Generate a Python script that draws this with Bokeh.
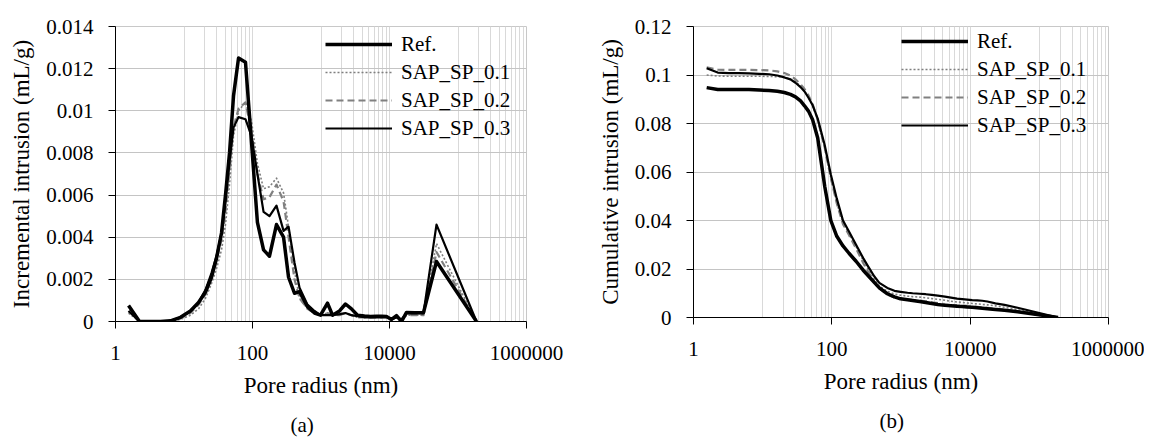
from bokeh.plotting import figure
from bokeh.layouts import row
from bokeh.models import (Range1d, FixedTicker, NumeralTickFormatter, Legend, LegendItem, Title)
from bokeh.embed import file_html
from bokeh.resources import INLINE

# ---------------- data ----------------
pore_radius_nm = [1.55, 2.24, 3.24, 4.54, 6.35, 8.9, 12.4, 16.3, 20.6, 25.2, 29.8, 35.3, 40.3, 46.2,
                  52.8, 62.5, 79, 96.7, 118, 145, 177, 224, 284, 336, 410, 486, 635, 804, 984, 1245,
                  1472, 1862, 2278, 2786, 3410, 4315, 5280, 6460, 7640, 9040, 10700, 12650, 14970,
                  17710, 23170, 31350, 48530, 186200]

ref_inc = [0.00076, 0, 0, 0, 0.00003, 0.0002, 0.0005, 0.0009, 0.0014, 0.0021, 0.0030, 0.0042, 0.0060,
           0.0080, 0.0107, 0.0125, 0.0123, 0.0085, 0.0047, 0.0034, 0.0031, 0.0046, 0.0040, 0.0021,
           0.00134, 0.00142, 0.0007, 0.0004, 0.0003, 0.00087, 0.0003, 0.0005, 0.00083, 0.0006, 0.0003,
           0.00026, 0.00024, 0.00025, 0.00025, 0.00024, 0.0001, 0.00028, 0.0, 0.00043, 0.00042,
           0.00042, 0.00285, 0.0]
sp01_inc = [0.0004, 0, 0, 0, 0, 0.0001, 0.0003, 0.0006, 0.0011, 0.0018, 0.0025, 0.0034, 0.0046, 0.0065,
            0.0088, 0.0100, 0.0104, 0.0095, 0.0075, 0.0063, 0.0064, 0.0068, 0.0061, 0.0045, 0.0024,
            0.0011, 0.0006, 0.0004, 0.0003, 0.0004, 0.0003, 0.0003, 0.0004, 0.0003, 0.0002, 0.0002,
            0.0002, 0.0002, 0.0002, 0.0002, 0.0001, 0.0002, 0.0001, 0.0003, 0.0003, 0.0003, 0.0037, 0.0]
sp02_inc = [0.0005, 0, 0, 0, 0.00002, 0.00015, 0.0004, 0.0008, 0.0013, 0.0021, 0.0029, 0.0039, 0.0052,
            0.0072, 0.0092, 0.0101, 0.0104, 0.0090, 0.0070, 0.0058, 0.0059, 0.0065, 0.0057, 0.0040,
            0.0020, 0.0011, 0.0006, 0.0004, 0.0003, 0.0004, 0.0003, 0.0003, 0.0004, 0.0003, 0.0002,
            0.0002, 0.0002, 0.0002, 0.0002, 0.0002, 0.0001, 0.0002, 0.0001, 0.0003, 0.0003, 0.0003,
            0.0033, 0.0]
sp03_inc = [0.0005, 0, 0, 0, 0.00003, 0.0002, 0.0005, 0.0009, 0.0015, 0.0023, 0.0031, 0.0042, 0.0057,
            0.0076, 0.0092, 0.0097, 0.0096, 0.0088, 0.0070, 0.0052, 0.0050, 0.0055, 0.0043, 0.0045,
            0.0028, 0.0016, 0.0008, 0.0005, 0.0003, 0.0003, 0.0003, 0.00035, 0.0004, 0.0003, 0.00025,
            0.0002, 0.0002, 0.0002, 0.0002, 0.00022, 0.0001, 0.0002, 0.0001, 0.0004, 0.0004, 0.0004,
            0.0046, 0.0]

ref_cum = [0.0948, 0.0940, 0.0940, 0.0940, 0.0940, 0.0938, 0.0936, 0.0933, 0.0928, 0.0920, 0.0910,
           0.0893, 0.0873, 0.0850, 0.0815, 0.0740, 0.0540, 0.0400, 0.0335, 0.0295, 0.0265, 0.0232,
           0.0195, 0.0172, 0.0145, 0.0122, 0.0098, 0.0085, 0.0077, 0.0073, 0.0070, 0.0066, 0.0062,
           0.0058, 0.0054, 0.0050, 0.0048, 0.0046, 0.0045, 0.0043, 0.0042, 0.0040, 0.0038, 0.0036,
           0.0033, 0.0030, 0.0024, 0.0]
sp01_cum = [0.1000, 0.0996, 0.0995, 0.0995, 0.0995, 0.0995, 0.0994, 0.0993, 0.0990, 0.0984, 0.0972,
            0.0955, 0.0935, 0.0908, 0.0875, 0.0812, 0.0698, 0.0575, 0.0472, 0.0390, 0.0345, 0.0292,
            0.0235, 0.0198, 0.0158, 0.0130, 0.0108, 0.0097, 0.0092, 0.0088, 0.0086, 0.0084, 0.0081,
            0.0078, 0.0075, 0.0071, 0.0067, 0.0064, 0.0062, 0.0060, 0.0058, 0.0056, 0.0054, 0.0052,
            0.0048, 0.0042, 0.0032, 0.0]
sp02_cum = [0.1032, 0.1022, 0.1021, 0.1021, 0.1021, 0.1020, 0.1019, 0.1015, 0.1008, 0.0998, 0.0982,
            0.0962, 0.0942, 0.0915, 0.0880, 0.0815, 0.0700, 0.0575, 0.0470, 0.0385, 0.0340, 0.0285,
            0.0225, 0.0188, 0.0148, 0.0120, 0.0095, 0.0082, 0.0077, 0.0074, 0.0072, 0.0070, 0.0067,
            0.0063, 0.0059, 0.0055, 0.0052, 0.0050, 0.0049, 0.0048, 0.0046, 0.0044, 0.0042, 0.0040,
            0.0036, 0.0032, 0.0024, 0.0]
sp03_cum = [0.1028, 0.1010, 0.1008, 0.1008, 0.1007, 0.1005, 0.1003, 0.0998, 0.0990, 0.0982, 0.0968,
            0.0950, 0.0932, 0.0905, 0.0875, 0.0820, 0.0710, 0.0590, 0.0490, 0.0400, 0.0355, 0.0300,
            0.0245, 0.0210, 0.0170, 0.0143, 0.0122, 0.0110, 0.0106, 0.0102, 0.0100, 0.0098, 0.0096,
            0.0093, 0.0090, 0.0086, 0.0082, 0.0078, 0.0076, 0.0074, 0.0072, 0.0071, 0.0069, 0.0066,
            0.0058, 0.0052, 0.0040, 0.0]

series_names = ["Ref.", "SAP_SP_0.1", "SAP_SP_0.2", "SAP_SP_0.3"]
x_major_ticks = [1, 100, 10000, 1000000]
x_minor_ticks = [10, 20, 30, 40, 50, 60, 70, 80, 90,
                 1000, 2000, 3000, 4000, 5000, 6000, 7000, 8000, 9000,
                 100000, 200000, 300000, 400000, 500000, 600000, 700000, 800000, 900000]
y_ticks_a = [0, 0.002, 0.004, 0.006, 0.008, 0.01, 0.012, 0.014]
y_ticks_b = [0, 0.02, 0.04, 0.06, 0.08, 0.1, 0.12]

FONT = "Liberation Serif"
TICK_FS = "21px"
LABEL_FS = "23px"

styles = {
    "Ref.": dict(line_color="black", line_width=3.5),
    "SAP_SP_0.1": dict(line_color="#7f7f7f", line_width=1.6, line_dash="2 2"),
    "SAP_SP_0.2": dict(line_color="#808080", line_width=2.2, line_dash="7 4"),
    "SAP_SP_0.3": dict(line_color="black", line_width=2.2),
}


def make_panel(series, y_max, y_ticks, y_label, caption, left, frame_w, right, top, frame_h, bottom,
               legend_loc, cap_offset):
    p = figure(x_axis_type="log", x_range=Range1d(1, 1000000), y_range=Range1d(0, y_max),
               frame_width=frame_w, frame_height=frame_h,
               min_border_left=left, min_border_right=right, min_border_top=top,
               min_border_bottom=bottom, output_backend="svg", toolbar_location=None,
               background_fill_color="white", border_fill_color="white")
    p.outline_line_color = "#c8c8c8"
    p.xaxis.ticker = FixedTicker(ticks=x_major_ticks, minor_ticks=x_minor_ticks)
    p.yaxis.ticker = FixedTicker(ticks=y_ticks)
    p.xaxis.formatter = NumeralTickFormatter(format="0")
    p.yaxis.formatter = NumeralTickFormatter(format="0.[000]")
    for ax in (p.xaxis[0], p.yaxis[0]):
        ax.axis_line_color = "black"
        ax.major_tick_line_color = "black"
        ax.major_tick_out = 7
        ax.major_tick_in = 0
        ax.minor_tick_line_color = None
        ax.major_label_text_font = FONT
        ax.major_label_text_font_size = TICK_FS
        ax.major_label_text_color = "black"
        ax.axis_label_text_font = FONT
        ax.axis_label_text_font_size = LABEL_FS
        ax.axis_label_text_font_style = "normal"
        ax.axis_label_text_color = "black"
    p.xaxis.major_label_standoff = 17
    p.yaxis.major_label_standoff = 15
    p.xaxis.axis_label = "Pore radius (nm)"
    p.yaxis.axis_label = y_label
    p.xaxis.axis_label_standoff = 10
    p.yaxis.axis_label_standoff = 9

    p.xgrid.grid_line_color = "#d9d9d9"
    p.xgrid.minor_grid_line_color = "#d9d9d9"
    p.ygrid.grid_line_color = "#c4c4c4"

    renderers = {}
    for name in ["SAP_SP_0.1", "SAP_SP_0.2", "SAP_SP_0.3", "Ref."]:
        renderers[name] = p.line(pore_radius_nm, series[name], line_join="round", **styles[name])

    legend = Legend(items=[LegendItem(label=n, renderers=[renderers[n]]) for n in series_names],
                    location=legend_loc, orientation="vertical",
                    border_line_alpha=0, background_fill_alpha=0,
                    padding=0, margin=0, spacing=0,
                    glyph_width=67, glyph_height=28, label_height=28, label_standoff=9,
                    label_text_font=FONT, label_text_font_size=TICK_FS, label_text_color="black")
    p.add_layout(legend, "center")

    p.add_layout(Title(text=caption, align="left", offset=cap_offset, standoff=21,
                       text_font=FONT, text_font_size="21px", text_font_style="normal",
                       text_color="black"), "below")
    return p


p1 = make_panel({"Ref.": ref_inc, "SAP_SP_0.1": sp01_inc, "SAP_SP_0.2": sp02_inc, "SAP_SP_0.3": sp03_inc},
                0.014, y_ticks_a, "Incremental intrusion (mL/g)", "(a)",
                115, 411, 54, 25, 295, 121, (210, 179), 175)
p2 = make_panel({"Ref.": ref_cum, "SAP_SP_0.1": sp01_cum, "SAP_SP_0.2": sp02_cum, "SAP_SP_0.3": sp03_cum},
                0.12, y_ticks_b, "Cumulative intrusion (mL/g)", "(b)",
                113, 415, 36, 26, 291, 124, (208, 178), 186)

layout = row(p1, p2, spacing=0)
open("out.html", "w").write(file_html(layout, INLINE))
